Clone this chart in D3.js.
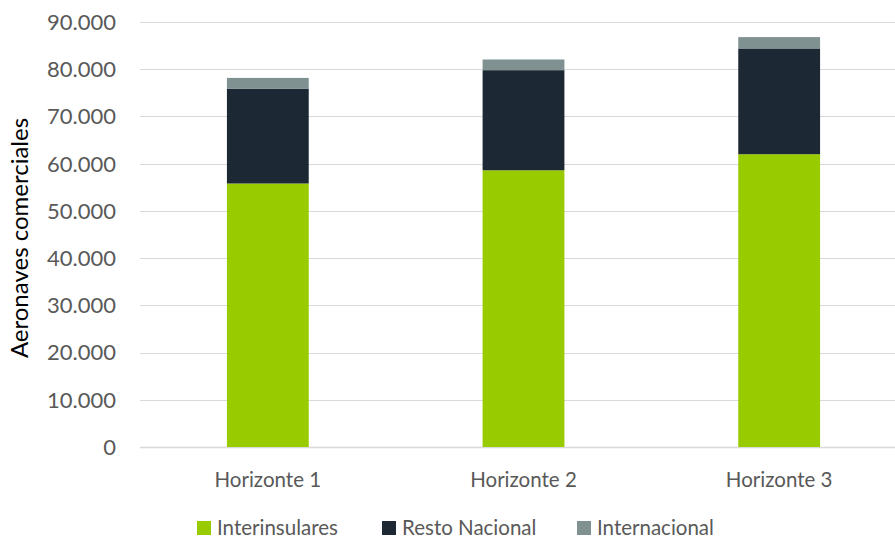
<!DOCTYPE html>
<html>
<head>
<meta charset="utf-8">
<script src="https://cdn.jsdelivr.net/npm/d3@7"></script>
<style>
  html, body { margin: 0; padding: 0; background: #fff; }
  svg { display: block; }
  text { font-family: Lato, "Open Sans", sans-serif; }
</style>
</head>
<body>
<svg id="chart" width="895" height="541"></svg>
<script>
// Aircraft movements per planning horizon, stacked by traffic type
const categories = ["Horizonte 1", "Horizonte 2", "Horizonte 3"];
const seriesNames = ["Interinsulares", "Resto Nacional", "Internacional"];
const interinsulares = [55800, 58600, 62000];
const restoNacional = [20100, 21200, 22400];
const internacional = [2260, 2260, 2400];
const yTicks = [0, 10000, 20000, 30000, 40000, 50000, 60000, 70000, 80000, 90000];
const yTickLabels = ["0", "10.000", "20.000", "30.000", "40.000", "50.000", "60.000", "70.000", "80.000", "90.000"];
const colors = ["#99cc00", "#1c2833", "#7f9191"];

const svg = d3.select("#chart");
const plotLeft = 140, plotRight = 907, plotTop = 22, plotBottom = 447;

const rows = categories.map((c, i) => ({
  cat: c,
  "Interinsulares": interinsulares[i],
  "Resto Nacional": restoNacional[i],
  "Internacional": internacional[i]
}));
const stacked = d3.stack().keys(seriesNames)(rows);

const x = d3.scaleBand().domain(categories).range([plotLeft, plotRight]).paddingInner(0.68).paddingOuter(0.34);
const y = d3.scaleLinear().domain([0, 90000]).range([plotBottom, plotTop]);

// horizontal gridlines
svg.append("g").selectAll("line").data(yTicks).join("line")
  .attr("x1", plotLeft).attr("x2", 895)
  .attr("y1", d => Math.round(y(d)) + 0.5).attr("y2", d => Math.round(y(d)) + 0.5)
  .attr("stroke", "#d9d9d9").attr("stroke-width", d => d === 0 ? 1.5 : 1.2);

// y tick labels
svg.append("g").selectAll("text").data(yTicks).join("text")
  .attr("x", 116).attr("y", d => y(d)).attr("dy", "0.36em")
  .attr("text-anchor", "end").attr("fill", "#595959").attr("font-size", 22)
  .text((d, i) => yTickLabels[i]);

// stacked bars
svg.append("g").selectAll("g").data(stacked).join("g")
  .attr("fill", (d, i) => colors[i])
  .selectAll("rect").data(d => d).join("rect")
  .attr("x", d => x(d.data.cat)).attr("width", x.bandwidth())
  .attr("y", d => y(d[1])).attr("height", d => y(d[0]) - y(d[1]));

// category labels
svg.append("g").selectAll("text").data(categories).join("text")
  .attr("x", d => x(d) + x.bandwidth() / 2).attr("y", 480).attr("dy", "0.36em")
  .attr("text-anchor", "middle").attr("fill", "#595959").attr("font-size", 20.5)
  .text(d => d);

// y axis title
svg.append("text")
  .attr("transform", "translate(19,238) rotate(-90)")
  .attr("text-anchor", "middle").attr("dy", "0.36em")
  .attr("fill", "#000").attr("font-size", 24)
  .text("Aeronaves comerciales");

// legend
const legendX = [197, 382, 577];
const lg = svg.append("g").selectAll("g").data(seriesNames).join("g")
  .attr("transform", (d, i) => `translate(${legendX[i]},528)`);
lg.append("rect").attr("x", 0).attr("y", -7).attr("width", 14).attr("height", 14)
  .attr("fill", (d, i) => colors[i]);
lg.append("text").attr("x", 20).attr("dy", "0.36em")
  .attr("fill", "#595959").attr("font-size", 20.5).text(d => d);
</script>
</body>
</html>
